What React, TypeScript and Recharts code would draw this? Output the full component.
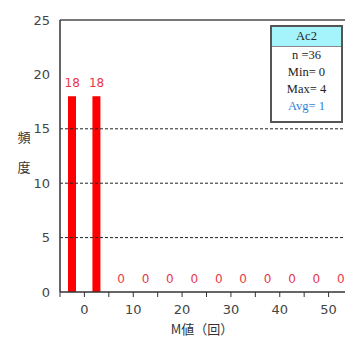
import { Bar, ComposedChart, LabelList, Line, ReferenceLine, XAxis, YAxis } from "recharts";

// histogram bins (centre of each 5-wide bin) and their counts
const binCenters = [-2.5, 2.5, 7.5, 12.5, 17.5, 22.5, 27.5, 32.5, 37.5, 42.5, 47.5, 52.5];
const counts = [18, 18, 0, 0, 0, 0, 0, 0, 0, 0, 0, 0];
const xTicks = [-5, 0, 5, 10, 15, 20, 25, 30, 35, 40, 45, 50, 55];
const yTicks = [0, 5, 10, 15, 20, 25];
const gridValues = [5, 10, 15];
const statsTitle = "Ac2";
const statsLines = ["n =36", "Min= 0", "Max= 4"];
const avgLine = "Avg= 1";

const data = binCenters.map((m, i) => ({ m, count: counts[i] }));

const tickFont = { fontFamily: "DejaVu Sans", fontSize: 13, fill: "#444" };

function YTitle({ viewBox }: any) {
  const cx = 24;
  const cy = viewBox.y + viewBox.height / 2 - 5;
  return (
    <text fontFamily="Noto Sans CJK JP" fontSize={13} fill="#333" textAnchor="middle">
      <tspan x={cx} y={cy - 9}>頻</tspan>
      <tspan x={cx} y={cy + 21}>度</tspan>
    </text>
  );
}

function XTitle({ viewBox }: any) {
  return (
    <text
      x={viewBox.x + 142}
      y={viewBox.y + 42}
      fontFamily="Noto Sans CJK JP"
      fontSize={13}
      fill="#333"
      textAnchor="middle"
    >
      M値（回）
    </text>
  );
}

export default function App() {
  return (
    <div
      style={{
        position: "absolute",
        left: 0,
        top: 0,
        width: 345,
        height: 337,
        overflow: "hidden",
        background: "#fff",
      }}
    >
      <ComposedChart
        width={380}
        height={337}
        data={data}
        margin={{ top: 20, right: 27, bottom: 0, left: 0 }}
        barSize={8}
      >
        {gridValues.map((v) => (
          <ReferenceLine key={v} y={v} stroke="#222" strokeDasharray="3 2" />
        ))}
        <ReferenceLine y={25} stroke="#777" strokeWidth={2} />
        <XAxis
          dataKey="m"
          type="number"
          domain={[-5, 55]}
          ticks={xTicks}
          interval={0}
          allowDataOverflow
          height={45}
          tick={tickFont}
          tickFormatter={(v: number) => (v >= 0 && v % 10 === 0 ? String(v) : "")}
          tickSize={5}
          tickMargin={8}
          axisLine={{ stroke: "#333", strokeWidth: 1.5 }}
          tickLine={{ stroke: "#333" }}
          label={<XTitle />}
        />
        <YAxis
          type="number"
          domain={[0, 25]}
          ticks={yTicks}
          width={60}
          tick={tickFont}
          tickLine={false}
          tickMargin={4}
          axisLine={{ stroke: "#333", strokeWidth: 1.5 }}
          label={<YTitle />}
        />
        <Bar dataKey="count" fill="#ff0000" isAnimationActive={false} />
        {/* invisible line carries the count labels, so empty bins get their "0" too */}
        <Line
          dataKey="count"
          stroke="none"
          dot={false}
          activeDot={false}
          legendType="none"
          isAnimationActive={false}
        >
          <LabelList
            dataKey="count"
            position="top"
            offset={9}
            fill="#e8384a"
            fontFamily="DejaVu Sans"
            fontSize={12}
          />
        </Line>
      </ComposedChart>
      <div
        style={{
          position: "absolute",
          left: 270,
          top: 25,
          width: 69,
          height: 94,
          border: "2px solid #555",
          background: "#fff",
          fontFamily: "Liberation Serif",
          fontSize: 12.5,
          color: "#222",
          textAlign: "center",
        }}
      >
        <div
          style={{
            height: 19,
            lineHeight: "19px",
            background: "#a6f4fb",
            borderBottom: "1px solid #888",
          }}
        >
          {statsTitle}
        </div>
        {statsLines.map((s) => (
          <div key={s} style={{ height: 17, lineHeight: "17px" }}>
            {s}
          </div>
        ))}
        <div style={{ height: 17, lineHeight: "17px", color: "#2f7fd8" }}>{avgLine}</div>
      </div>
    </div>
  );
}
